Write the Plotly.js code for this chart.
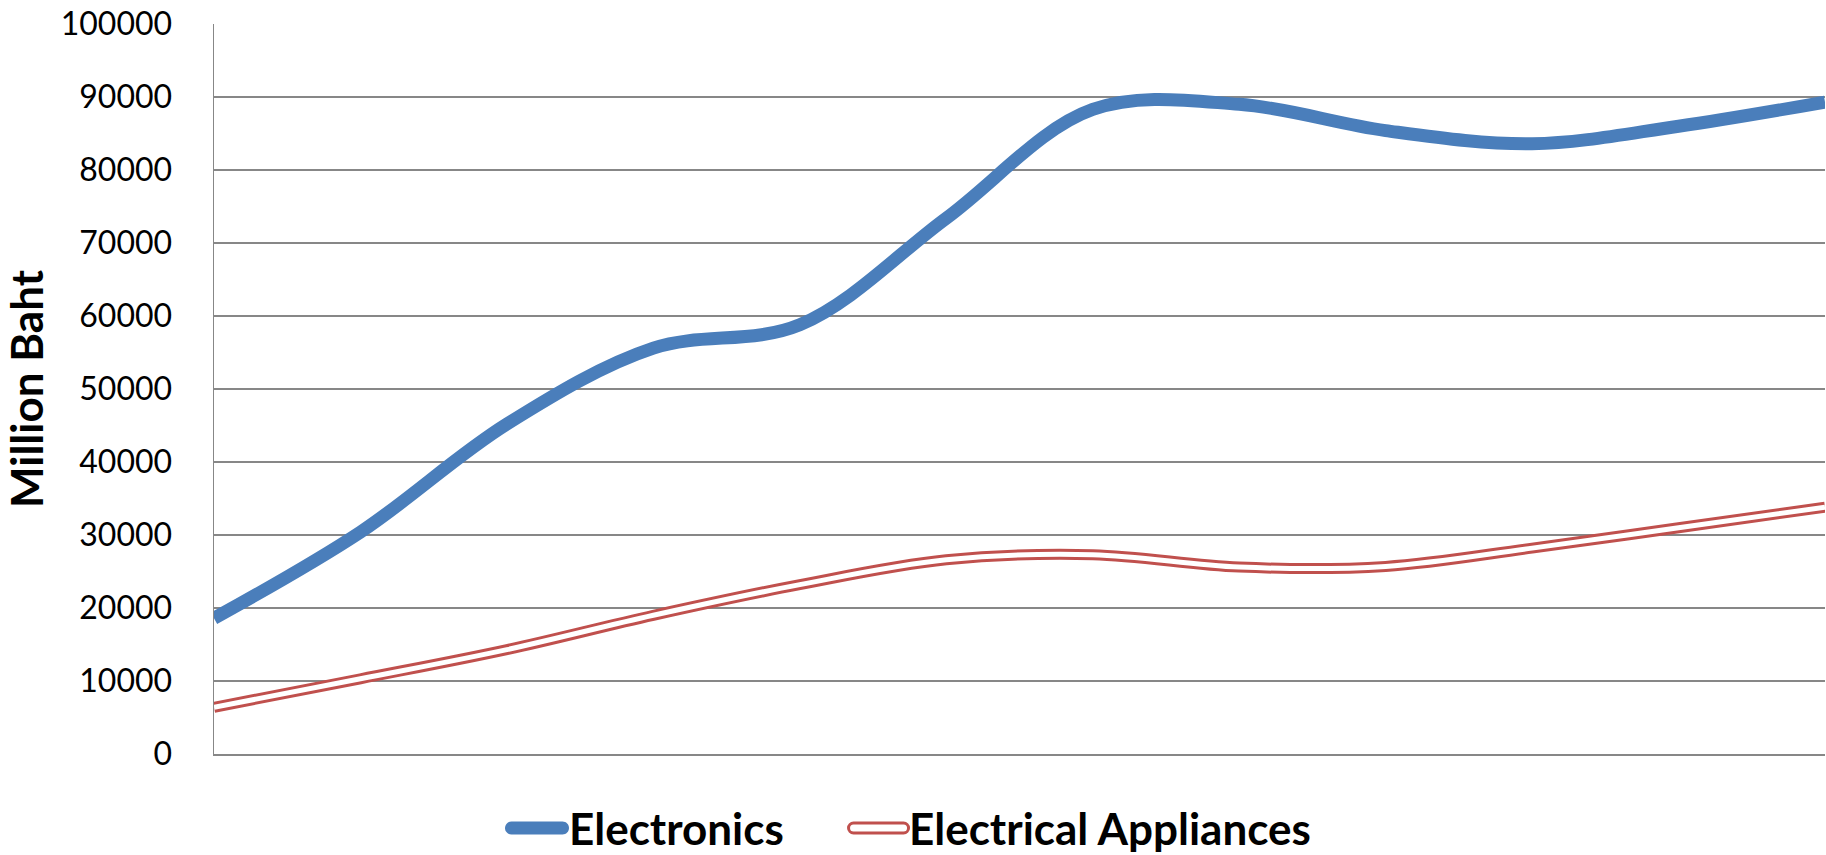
<!DOCTYPE html>
<html>
<head>
<meta charset="utf-8">
<script src="https://cdn.plot.ly/plotly-3.0.1.min.js"></script>
<style>
html, body { margin: 0; padding: 0; background: #ffffff; }
#chart { width: 1826px; height: 855px; }
</style>
</head>
<body>
<div id="chart"></div>
<script>
// Data (the period labels are not shown in the chart)
const periods = [1, 2, 3, 4, 5, 6, 7, 8, 9, 10, 11, 12];
const electronics = [18600, 30400, 45200, 55600, 58800, 73400, 88300, 89000, 85400, 83600, 86000, 89300];
const appliances = [6400, 10300, 14300, 19000, 23200, 26600, 27300, 25600, 25700, 28200, 31000, 33800];
const seriesNames = ['Electronics', 'Electrical Appliances'];
const yTickValues = [0, 10000, 20000, 30000, 40000, 50000, 60000, 70000, 80000, 90000, 100000];
const yTitle = 'Million Baht';

const BLUE = '#4a7ebb';
const RED = '#c0504d';
const GRID = '#878787';
const FONT = 'Lato, "Open Sans", "Liberation Sans", sans-serif';

const traces = [
  {
    x: periods, y: electronics, name: seriesNames[0],
    type: 'scatter', mode: 'lines',
    line: { color: BLUE, width: 13, shape: 'spline', smoothing: 1 },
    hoverinfo: 'skip'
  },
  {
    x: periods, y: appliances, name: seriesNames[1],
    type: 'scatter', mode: 'lines',
    line: { color: RED, width: 11, shape: 'spline', smoothing: 1 },
    hoverinfo: 'skip'
  },
  {
    // white core that turns the red line into a double (outlined) line
    x: periods, y: appliances, name: seriesNames[1],
    type: 'scatter', mode: 'lines',
    line: { color: '#ffffff', width: 5, shape: 'spline', smoothing: 1 },
    hoverinfo: 'skip'
  }
];

// Legend (drawn below the plot, as in the reference)
const legendY = -0.1014;
function roundedBar(halfW, halfH) {
  const r = halfH, k = 0.5523 * r, a = halfW - r;
  return 'M' + (-a) + ',' + (-halfH) + ' H' + a +
    ' C' + (a + k) + ',' + (-halfH) + ' ' + halfW + ',' + (-k) + ' ' + halfW + ',0' +
    ' C' + halfW + ',' + k + ' ' + (a + k) + ',' + halfH + ' ' + a + ',' + halfH +
    ' H' + (-a) +
    ' C' + (-a - k) + ',' + halfH + ' ' + (-halfW) + ',' + k + ' ' + (-halfW) + ',0' +
    ' C' + (-halfW) + ',' + (-k) + ' ' + (-a - k) + ',' + (-halfH) + ' ' + (-a) + ',' + (-halfH) + ' Z';
}

const shapes = [
  {
    type: 'path', xref: 'paper', yref: 'paper', xsizemode: 'pixel', ysizemode: 'pixel',
    xanchor: 0.2005, yanchor: legendY, path: roundedBar(32, 6.5),
    fillcolor: BLUE, line: { width: 0 }, layer: 'above'
  },
  {
    type: 'path', xref: 'paper', yref: 'paper', xsizemode: 'pixel', ysizemode: 'pixel',
    xanchor: 0.4125, yanchor: legendY, path: roundedBar(30, 5),
    fillcolor: '#ffffff', line: { width: 3, color: RED }, layer: 'above'
  }
];

const legendFont = { family: FONT, size: 44, weight: 700, color: '#000000' };
const annotations = [
  {
    text: seriesNames[0], xref: 'paper', yref: 'paper', x: 0.2200, y: legendY,
    xanchor: 'left', yanchor: 'middle', showarrow: false, font: legendFont, borderpad: 0
  },
  {
    text: seriesNames[1], xref: 'paper', yref: 'paper', x: 0.4310, y: legendY,
    xanchor: 'left', yanchor: 'middle', showarrow: false, font: legendFont, borderpad: 0
  }
];

const layout = {
  width: 1826, height: 855,
  margin: { l: 214, r: 1, t: 24, b: 101, autoexpand: false },
  paper_bgcolor: '#ffffff', plot_bgcolor: '#ffffff',
  font: { family: FONT, color: '#000000' },
  showlegend: false,
  shapes: shapes,
  annotations: annotations,
  xaxis: {
    range: [1, 12], showgrid: false, zeroline: false,
    showline: true, linecolor: GRID, linewidth: 1.5,
    showticklabels: false, ticks: '', fixedrange: true
  },
  yaxis: {
    range: [0, 100000], tickvals: yTickValues, ticktext: yTickValues.map(String),
    showgrid: true, gridcolor: GRID, gridwidth: 1.2,
    zeroline: false, showline: true, linecolor: GRID, linewidth: 1.5,
    ticks: '', ticklabelstandoff: 34,
    tickfont: { family: FONT, size: 32, color: '#000000' },
    title: { text: yTitle, font: { family: FONT, size: 44, weight: 700, color: '#000000' }, standoff: 18 },
    automargin: false, fixedrange: true
  }
};

Plotly.newPlot('chart', traces, layout, { displayModeBar: false, staticPlot: true });
</script>
</body>
</html>
